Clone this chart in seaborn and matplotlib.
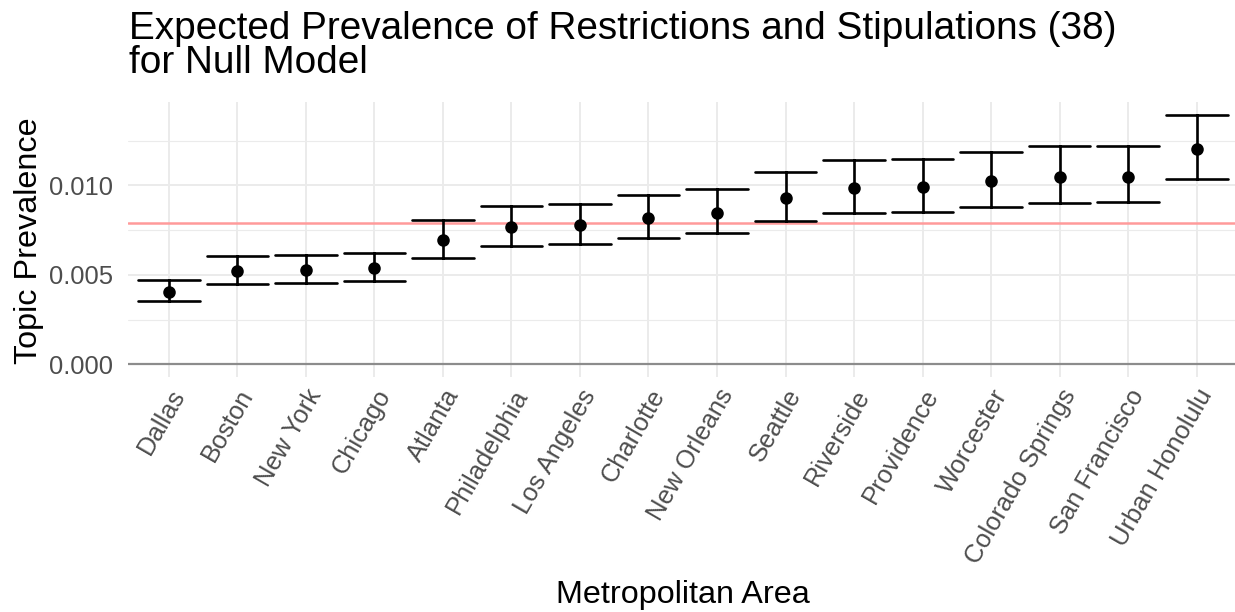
import matplotlib
matplotlib.use("Agg")
import matplotlib.pyplot as plt
from matplotlib.ticker import MultipleLocator
import numpy as np
import pandas as pd
import seaborn as sns

# Expected topic prevalence per metro area with 95% interval bounds
cities = ["Dallas", "Boston", "New York", "Chicago", "Atlanta", "Philadelphia",
          "Los Angeles", "Charlotte", "New Orleans", "Seattle", "Riverside",
          "Providence", "Worcester", "Colorado Springs", "San Francisco",
          "Urban Honolulu"]
estimate = [0.00404, 0.00521, 0.00525, 0.00536, 0.00693, 0.00765, 0.00776,
            0.00815, 0.00845, 0.00927, 0.00985, 0.00990, 0.01024, 0.01046,
            0.01048, 0.01201]
lower = [0.00352, 0.00450, 0.00456, 0.00464, 0.00596, 0.00661, 0.00672,
         0.00704, 0.00732, 0.00801, 0.00847, 0.00853, 0.00881, 0.00899,
         0.00905, 0.01037]
upper = [0.00471, 0.00605, 0.00609, 0.00622, 0.00804, 0.00886, 0.00897,
         0.00946, 0.00978, 0.01076, 0.01141, 0.01147, 0.01186, 0.01218,
         0.01220, 0.01394]
overall_mean = 0.00789
y_ticks = [0.000, 0.005, 0.010]

# long form: one row per bound / estimate, so the median is the estimate
# and the min/max give the interval
df = pd.DataFrame({
    "city": np.repeat(cities, 3),
    "value": np.ravel(np.column_stack([lower, estimate, upper])),
})

sns.set_theme(style="whitegrid")
plt.rcParams["font.family"] = ["Liberation Sans", "DejaVu Sans"]

W, H = 1235, 612
fig = plt.figure(figsize=(W / 100, H / 100), dpi=100)
px_left, px_right, px_top, px_bottom = 127.7, 1237.8, 102.2, 376.8
ax = fig.add_axes([px_left / W, 1 - px_bottom / H,
                   (px_right - px_left) / W, (px_bottom - px_top) / H])

grid_col = "#EBEBEB"
ax.set_facecolor("white")
for s in ax.spines.values():
    s.set_visible(False)

ax.axhline(0, color="#8C8C8C", lw=1.6, zorder=2)
ax.axhline(overall_mean, color="#FF9A9A", lw=1.8, zorder=2)

sns.pointplot(data=df, x="city", y="value", order=cities,
              estimator="median",
              errorbar=lambda v: (v.min(), v.max()),
              capsize=0.9, color="black", linestyle="none",
              markersize=7, err_kws={"linewidth": 1.9}, ax=ax, zorder=3)

ax.set_xlim(-0.6, len(cities) - 1 + 0.6)
ax.set_ylim(-0.0007, 0.01464)
ax.set_yticks(y_ticks)
ax.set_yticklabels([f"{t:.3f}" for t in y_ticks])
ax.yaxis.set_minor_locator(MultipleLocator(0.0025))

ax.grid(True, which="major", color=grid_col, lw=1.4, zorder=0)
ax.grid(True, which="minor", axis="y", color=grid_col, lw=0.8, zorder=0)
ax.set_axisbelow(True)

ax.tick_params(axis="both", which="both", length=0, labelsize=18.4,
               labelcolor="#4D4D4D")
ax.tick_params(axis="y", pad=10.4)
ax.tick_params(axis="x", pad=6)
for lab in ax.get_xticklabels():
    lab.set_rotation(60)
    lab.set_ha("right")
    lab.set_va("top")
    lab.set_rotation_mode("anchor")

ax.set_xlabel("")
ax.set_ylabel("")
fig.text((px_left + px_right) / 2 / W, 1 - 603.3 / H, "Metropolitan Area",
         ha="center", va="baseline", fontsize=23.3, color="black")
fig.text(29 / W, 1 - 241 / H, "Topic Prevalence", ha="center",
         va="center", rotation=90, fontsize=23.3, color="black")
fig.text(129 / W, 1 - 39.3 / H,
         "Expected Prevalence of Restrictions and Stipulations (38)",
         ha="left", va="baseline", fontsize=27.9, color="black")
fig.text(129 / W, 1 - 72.7 / H, "for Null Model",
         ha="left", va="baseline", fontsize=27.9, color="black")

fig.savefig("out.png", dpi=100)
